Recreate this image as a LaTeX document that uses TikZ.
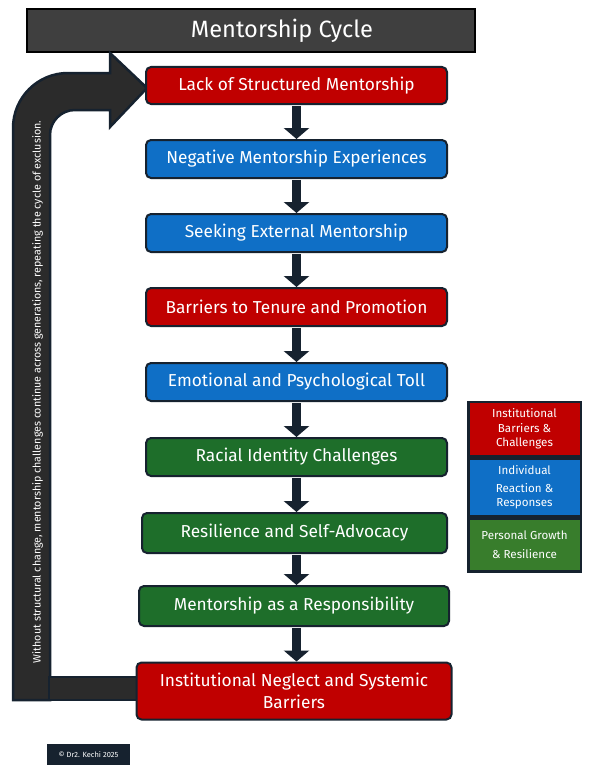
\documentclass[tikz,border=0pt]{standalone}
\usepackage{fontspec}
\setmainfont{Fira Sans}
\usetikzlibrary{arrows.meta}
\definecolor{cred}{HTML}{C00000}
\definecolor{cblue}{HTML}{0F6FC6}
\definecolor{cgreen}{HTML}{1E6E2A}
\definecolor{lgreen}{HTML}{387D2C}
\definecolor{navy}{HTML}{16222F}
\definecolor{bandgray}{HTML}{2B2B2B}
\definecolor{titlegray}{HTML}{3F3F3F}
\tikzset{
  stagebox/.style={draw=navy, line width=2pt, rounded corners=5pt, text=white,
    font=\fontsize{17.3}{20}\selectfont, align=center, inner sep=0pt, anchor=center},
  flowarrow/.style={draw=navy, line width=9pt, -{Triangle[width=25pt,length=11pt]}, shorten <=1pt},
  legendbox/.style={inner sep=0pt, text=white, align=center, font=\fontsize{11.6}{14.5}\selectfont},
}
\begin{document}
\begin{tikzpicture}[x=1pt,y=1pt]
\useasboundingbox (0,0) rectangle (593,-776);
\fill[white] (0,0) rectangle (593,-776);

% title
\node[draw=black, line width=1.5pt, fill=titlegray, minimum width=448pt, minimum height=43pt, inner sep=0pt] (title) at (251,-30.5) {};
\node[text=white, font=\fontsize{23.6}{27}\selectfont, inner sep=0pt] (titletext) at (282,-31) {Mentorship Cycle};

% loop arrow
\draw[navy, line width=2.5pt, fill=bandgray, line join=miter]
  (13,-700) -- (13,-128) .. controls (13,-97.6) and (37.6,-73) .. (68,-73)
  -- (110,-73) -- (110,-53) -- (147,-88) -- (110,-127) -- (110,-110) -- (75,-110)
  .. controls (61.2,-110) and (50,-121.2) .. (50,-135) -- (50,-677) -- (50,-700) -- cycle;
\draw[navy, line width=2.5pt, fill=bandgray] (49,-677) rectangle (139,-700);
\node[text=white, rotate=90, font=\fontsize{10.7}{12}\selectfont, inner sep=0pt] (looptext) at (37.5,-392)
  {Without structural change, mentorship challenges continue across generations, repeating the cycle of exclusion.};

% stages
\node[stagebox, fill=cred, minimum width=301pt, minimum height=37pt] (s1) at (296.5,-85.5) {Lack of Structured Mentorship};
\node[stagebox, fill=cblue, minimum width=301pt, minimum height=38pt] (s2) at (296.5,-159) {Negative Mentorship Experiences};
\node[stagebox, fill=cblue, minimum width=301pt, minimum height=38pt] (s3) at (296.5,-233) {Seeking External Mentorship};
\node[stagebox, fill=cred, minimum width=301pt, minimum height=38pt] (s4) at (296.5,-307) {Barriers to Tenure and Promotion};
\node[stagebox, fill=cblue, minimum width=301pt, minimum height=38pt] (s5) at (296.5,-382) {Emotional and Psychological Toll};
\node[stagebox, fill=cgreen, minimum width=301pt, minimum height=38pt] (s6) at (296.5,-457) {Racial Identity Challenges};
\node[stagebox, fill=cgreen, minimum width=305pt, minimum height=40pt] (s7) at (294.5,-533) {Resilience and Self-Advocacy};
\node[stagebox, fill=cgreen, minimum width=310pt, minimum height=40pt] (s8) at (294,-606) {Mentorship as a Responsibility};
\node[stagebox, fill=cred, minimum width=315pt, minimum height=57pt, font=\fontsize{17.3}{22}\selectfont] (s9) at (294,-691)
  {Institutional Neglect and Systemic\\Barriers};

\foreach \a/\b in {s1/s2,s2/s3,s3/s4,s4/s5,s5/s6,s6/s7,s7/s8,s8/s9}
  \draw[flowarrow] (\a.south -| s1.south) -- (\b.north -| s1.south);

% legend
\fill[navy] (467,-401) rectangle (582,-573);
\node[legendbox, fill=cred, minimum width=110pt, minimum height=52pt] (lg1) at (524.5,-429) {Institutional\\Barriers \&\\Challenges};
\node[legendbox, fill=cblue, minimum width=110pt, minimum height=55pt] (lg2) at (524.5,-487.5) {Individual\\[3pt]Reaction \&\\Responses};
\node[legendbox, fill=lgreen, minimum width=110pt, minimum height=50pt, font=\fontsize{11.6}{19}\selectfont] (lg3) at (524.5,-545) {Personal Growth\\\& Resilience};

% copyright
\node[fill=navy, text=white, minimum width=83pt, minimum height=21pt, inner sep=0pt,
  font=\fontsize{7.5}{9}\selectfont] (copy) at (88.5,-754.5) {© Dr2. Kechi 2025};
\end{tikzpicture}
\end{document}
